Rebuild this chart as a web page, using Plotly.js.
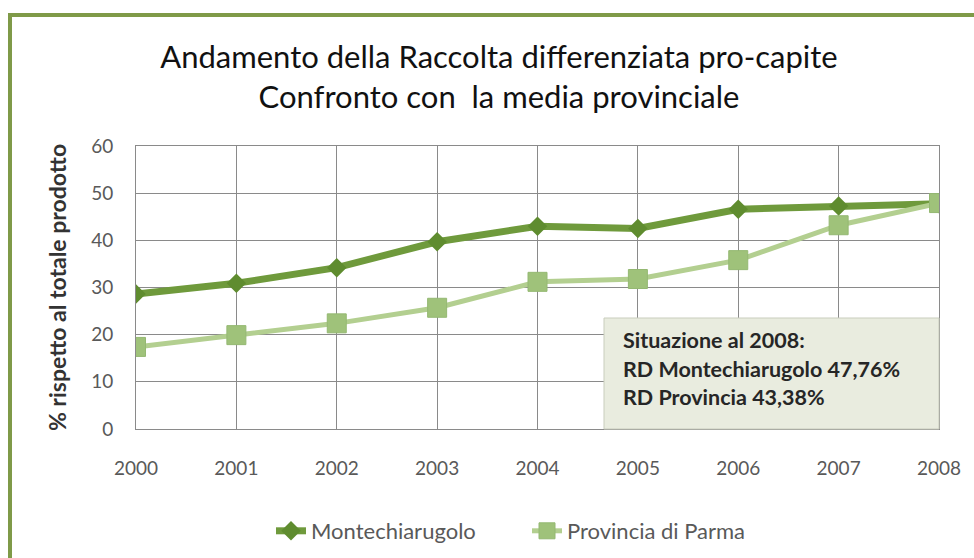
<!DOCTYPE html>
<html><head><meta charset="utf-8">
<script src="https://cdn.plot.ly/plotly-3.0.1.min.js"></script>
<style>html,body{margin:0;padding:0;background:#fff;}#chart{width:974px;height:558px;}</style>
</head><body><div id="chart"></div>
<script>
const years = [2000, 2001, 2002, 2003, 2004, 2005, 2006, 2007, 2008];
const montechiarugolo = [28.6, 30.9, 34.2, 39.7, 43.0, 42.5, 46.6, 47.3, 47.76];
const provinciaParma = [17.4, 19.9, 22.4, 25.7, 31.2, 31.8, 35.8, 43.2, 47.9];
const seriesNames = ['Montechiarugolo', 'Provincia di Parma'];
const yTicks = [0, 10, 20, 30, 40, 50, 60];
const boxLines = ['Situazione al 2008:', 'RD Montechiarugolo 47,76%', 'RD Provincia 43,38%'];

const W = 974, H = 558, L = 136, R = 35, T = 146, B = 129;
const pw = W - L - R, ph = H - T - B;
const px = x => (x - L) / pw;
const py = y => (H - B - y) / ph;

const FONT = 'Lato, "Open Sans", sans-serif';

const traces = [
  {x: years, y: montechiarugolo, name: seriesNames[0], type: 'scatter', mode: 'lines+markers',
   line: {color: '#6f9a3c', width: 7}, marker: {symbol: 'diamond', size: 15, color: '#5f8c2f'}},
  {x: years, y: provinciaParma, name: seriesNames[1], type: 'scatter', mode: 'lines+markers',
   line: {color: '#b3cf90', width: 5}, marker: {symbol: 'square', size: 19, color: '#9fc27a', line: {color: '#94b872', width: 1}}}
];

const annotations = boxLines.map((t, i) => ({
  xref: 'paper', yref: 'paper', x: px(621), y: py(340 + i * 28.5), xanchor: 'left', yanchor: 'middle',
  text: '<b>' + t + '</b>', showarrow: false,
  font: {family: FONT, size: 21.5, color: '#262626'}
}));

const layout = {
  width: W, height: H,
  margin: {l: L, r: R, t: T, b: B},
  paper_bgcolor: '#ffffff', plot_bgcolor: '#ffffff',
  title: {text: 'Andamento della Raccolta differenziata pro-capite<br>Confronto con  la media provinciale',
          font: {family: FONT, size: 31, color: '#111111'}, x: 499 / W, xanchor: 'center',
          y: 1 - 68 / H, yanchor: 'middle', yref: 'container'},
  xaxis: {range: [2000, 2008], tickvals: years, ticktext: years.map(String), showgrid: true, gridcolor: '#8a8a8a', gridwidth: 1,
          zeroline: false, showline: true, linecolor: '#8a8a8a', mirror: true, ticks: '', automargin: false, tickangle: 0,
          ticklabelstandoff: 22, tickfont: {family: FONT, size: 19, color: '#595959'}, fixedrange: true},
  yaxis: {range: [0, 60], tickvals: yTicks, showgrid: true, gridcolor: '#8a8a8a', gridwidth: 1,
          zeroline: false, showline: true, linecolor: '#8a8a8a', mirror: true, ticks: '', automargin: false,
          ticklabelstandoff: 18, tickfont: {family: FONT, size: 19, color: '#595959'},
          title: {text: '<b>% rispetto al totale prodotto</b>', standoff: 18, font: {family: FONT, size: 23, color: '#333333'}}},
  showlegend: true,
  legend: {orientation: 'h', x: 527 / W, xref: 'container', xanchor: 'center', y: 1 - 531 / H, yref: 'container', yanchor: 'middle',
           font: {family: FONT, size: 22, color: '#595959'}, traceorder: 'normal', entrywidth: 211},
  shapes: [
    {type: 'rect', xref: 'paper', yref: 'paper', x0: px(10), x1: px(1010), y0: py(15), y1: py(590),
     line: {color: '#7f9a48', width: 4}, fillcolor: 'rgba(0,0,0,0)', layer: 'below'},
    {type: 'rect', xref: 'paper', yref: 'paper', x0: px(604), x1: 1, y0: 0, y1: py(318),
     line: {color: '#c9cdbd', width: 1}, fillcolor: '#e9ecdf', layer: 'above'}
  ],
  annotations: annotations
};

Plotly.newPlot('chart', traces, layout, {displayModeBar: false, staticPlot: true});
</script></body></html>
